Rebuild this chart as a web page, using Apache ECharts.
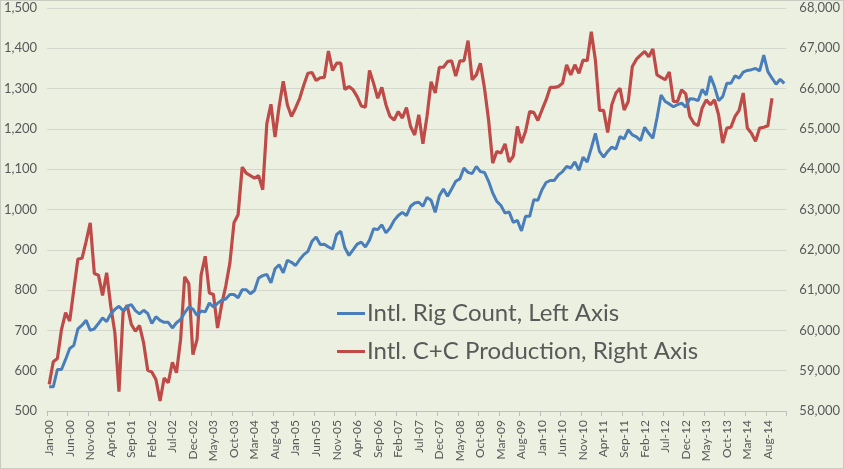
<!DOCTYPE html>
<html>
<head>
<meta charset="utf-8">
<script src="https://cdn.jsdelivr.net/npm/echarts@6/dist/echarts.min.js"></script>
<style>
html,body{margin:0;padding:0;background:#ECF0E1;}
#c{width:844px;height:469px;box-sizing:border-box;border:1px solid #C8CBC0;}
</style>
</head>
<body>
<div id="c"></div>
<script>
const monthNames = ['Jan','Feb','Mar','Apr','May','Jun','Jul','Aug','Sep','Oct','Nov','Dec'];
const years = ['00','01','02','03','04','05','06','07','08','09','10','11','12','13','14'];
const categories = [];
years.forEach(y => monthNames.forEach(m => categories.push(m + '-' + y)));

const seriesNames = ['Intl. Rig Count, Left Axis', 'Intl. C+C Production, Right Axis'];

// Intl. rig count (left axis), Jan-00 .. Dec-14
const rigCount = [
 560,560,603,603,628,655,663,704,713,725,700,704,
 717,731,722,741,752,760,749,760,764,749,741,750,
 742,717,734,725,720,720,706,719,727,744,758,753,
 737,748,746,768,758,767,775,778,789,789,781,801,
 801,791,799,830,836,839,818,853,863,843,874,869,
 861,876,888,896,921,932,913,914,907,902,938,946,
 905,886,900,914,919,907,924,952,950,962,942,954,
 973,985,993,985,1008,1016,1018,1008,1030,1023,993,1034,
 1051,1033,1051,1070,1076,1103,1092,1089,1107,1094,1092,1070,
 1041,1020,1010,991,994,968,973,947,983,983,1024,1023,
 1049,1067,1072,1072,1086,1094,1107,1103,1118,1097,1130,1118,
 1152,1189,1144,1130,1144,1155,1150,1181,1175,1198,1185,1180,
 1171,1204,1189,1177,1227,1284,1268,1262,1255,1260,1264,1254,
 1275,1274,1270,1298,1284,1331,1305,1270,1280,1313,1313,1332,
 1326,1341,1345,1347,1350,1344,1383,1342,1326,1311,1323,1313
];

// Intl. crude + condensate production, kb/d (right axis), Jan-00 .. Sep-14
const production = [
 58660,59220,59300,60020,60440,60230,61010,61770,61790,62210,62670,61410,
 61370,60870,61430,60600,59940,58480,60450,60620,60150,59980,60120,59690,
 59010,58970,58780,58250,58820,58700,59210,58950,59770,61330,61160,59400,
 59770,61380,61840,60930,60890,60060,60640,61100,61670,62670,62870,64050,
 63900,63840,63780,63840,63490,65130,65610,64800,65560,66180,65600,65310,
 65520,65760,66090,66380,66400,66200,66270,66280,66930,66450,66630,66630,
 65980,66050,65970,65800,65570,65540,66450,66130,65760,66030,65600,65310,
 65220,65430,65270,65530,65060,64850,65350,64630,65310,66170,65890,66530,
 66530,66670,66690,66310,66690,66690,67190,66220,66340,66630,66010,65220,
 64150,64440,64400,64630,64180,64320,65060,64650,64940,65430,65410,65210,
 65470,65720,66030,66030,66050,66130,66590,66340,66590,66380,66710,66690,
 67410,66710,65460,65460,64910,65600,65890,66010,65470,65680,66550,66730,
 66830,66920,66790,66980,66340,66280,66220,66410,65680,65680,65970,65870,
 65310,65140,65080,65520,65720,65600,65720,65350,64650,65020,65040,65310,
 65460,65890,65020,64890,64690,65020,65040,65080,65760
];

const leftTicks = {min: 500, max: 1500, step: 100};
const rightTicks = {min: 58000, max: 68000, step: 1000};

const fmt = v => v.toLocaleString('en-US');
const font = 'Lato, "Open Sans", sans-serif';
const txt = '#595959';
const grid = '#D4D7CB';

const chart = echarts.init(document.getElementById('c'), null, {renderer: 'canvas'});
chart.setOption({
  backgroundColor: '#ECF0E1',
  animation: false,
  grid: {left: 43, right: 52, top: 7, bottom: 57},
  legend: {
    orient: 'vertical',
    left: 331, top: 294,
    icon: 'rect',
    itemWidth: 28, itemHeight: 3,
    itemGap: 11,
    textStyle: {fontFamily: font, fontSize: 24, color: txt, padding: [0,0,0,-3], lineHeight: 27},
    data: seriesNames
  },
  xAxis: {
    type: 'category',
    data: categories,
    boundaryGap: true,
    axisLine: {lineStyle: {color: '#BFBFBF', width: 1}},
    axisTick: {show: true, interval: 4, length: 5, lineStyle: {color: '#BFBFBF'}},
    axisLabel: {interval: 4, rotate: 90, fontFamily: font, fontSize: 12, color: txt, margin: 9},
    splitLine: {show: false}
  },
  yAxis: [
    {
      type: 'value', min: leftTicks.min, max: leftTicks.max, interval: leftTicks.step,
      axisLine: {show: false}, axisTick: {show: false},
      axisLabel: {formatter: fmt, fontFamily: font, fontSize: 13, color: txt, margin: 10},
      splitLine: {lineStyle: {color: grid, width: 1}}
    },
    {
      type: 'value', min: rightTicks.min, max: rightTicks.max, interval: rightTicks.step,
      axisLine: {show: false}, axisTick: {show: false},
      axisLabel: {formatter: fmt, fontFamily: font, fontSize: 13, color: txt, margin: 13},
      splitLine: {show: false}
    }
  ],
  series: [
    {
      name: seriesNames[0], type: 'line', yAxisIndex: 0, data: rigCount,
      symbol: 'none', lineStyle: {color: '#4A7EBB', width: 3}, itemStyle: {color: '#4A7EBB'}, z: 3
    },
    {
      name: seriesNames[1], type: 'line', yAxisIndex: 1, data: production,
      symbol: 'none', lineStyle: {color: '#BE4B48', width: 3.2}, itemStyle: {color: '#BE4B48'}, z: 2
    }
  ]
});
</script>
</body>
</html>
